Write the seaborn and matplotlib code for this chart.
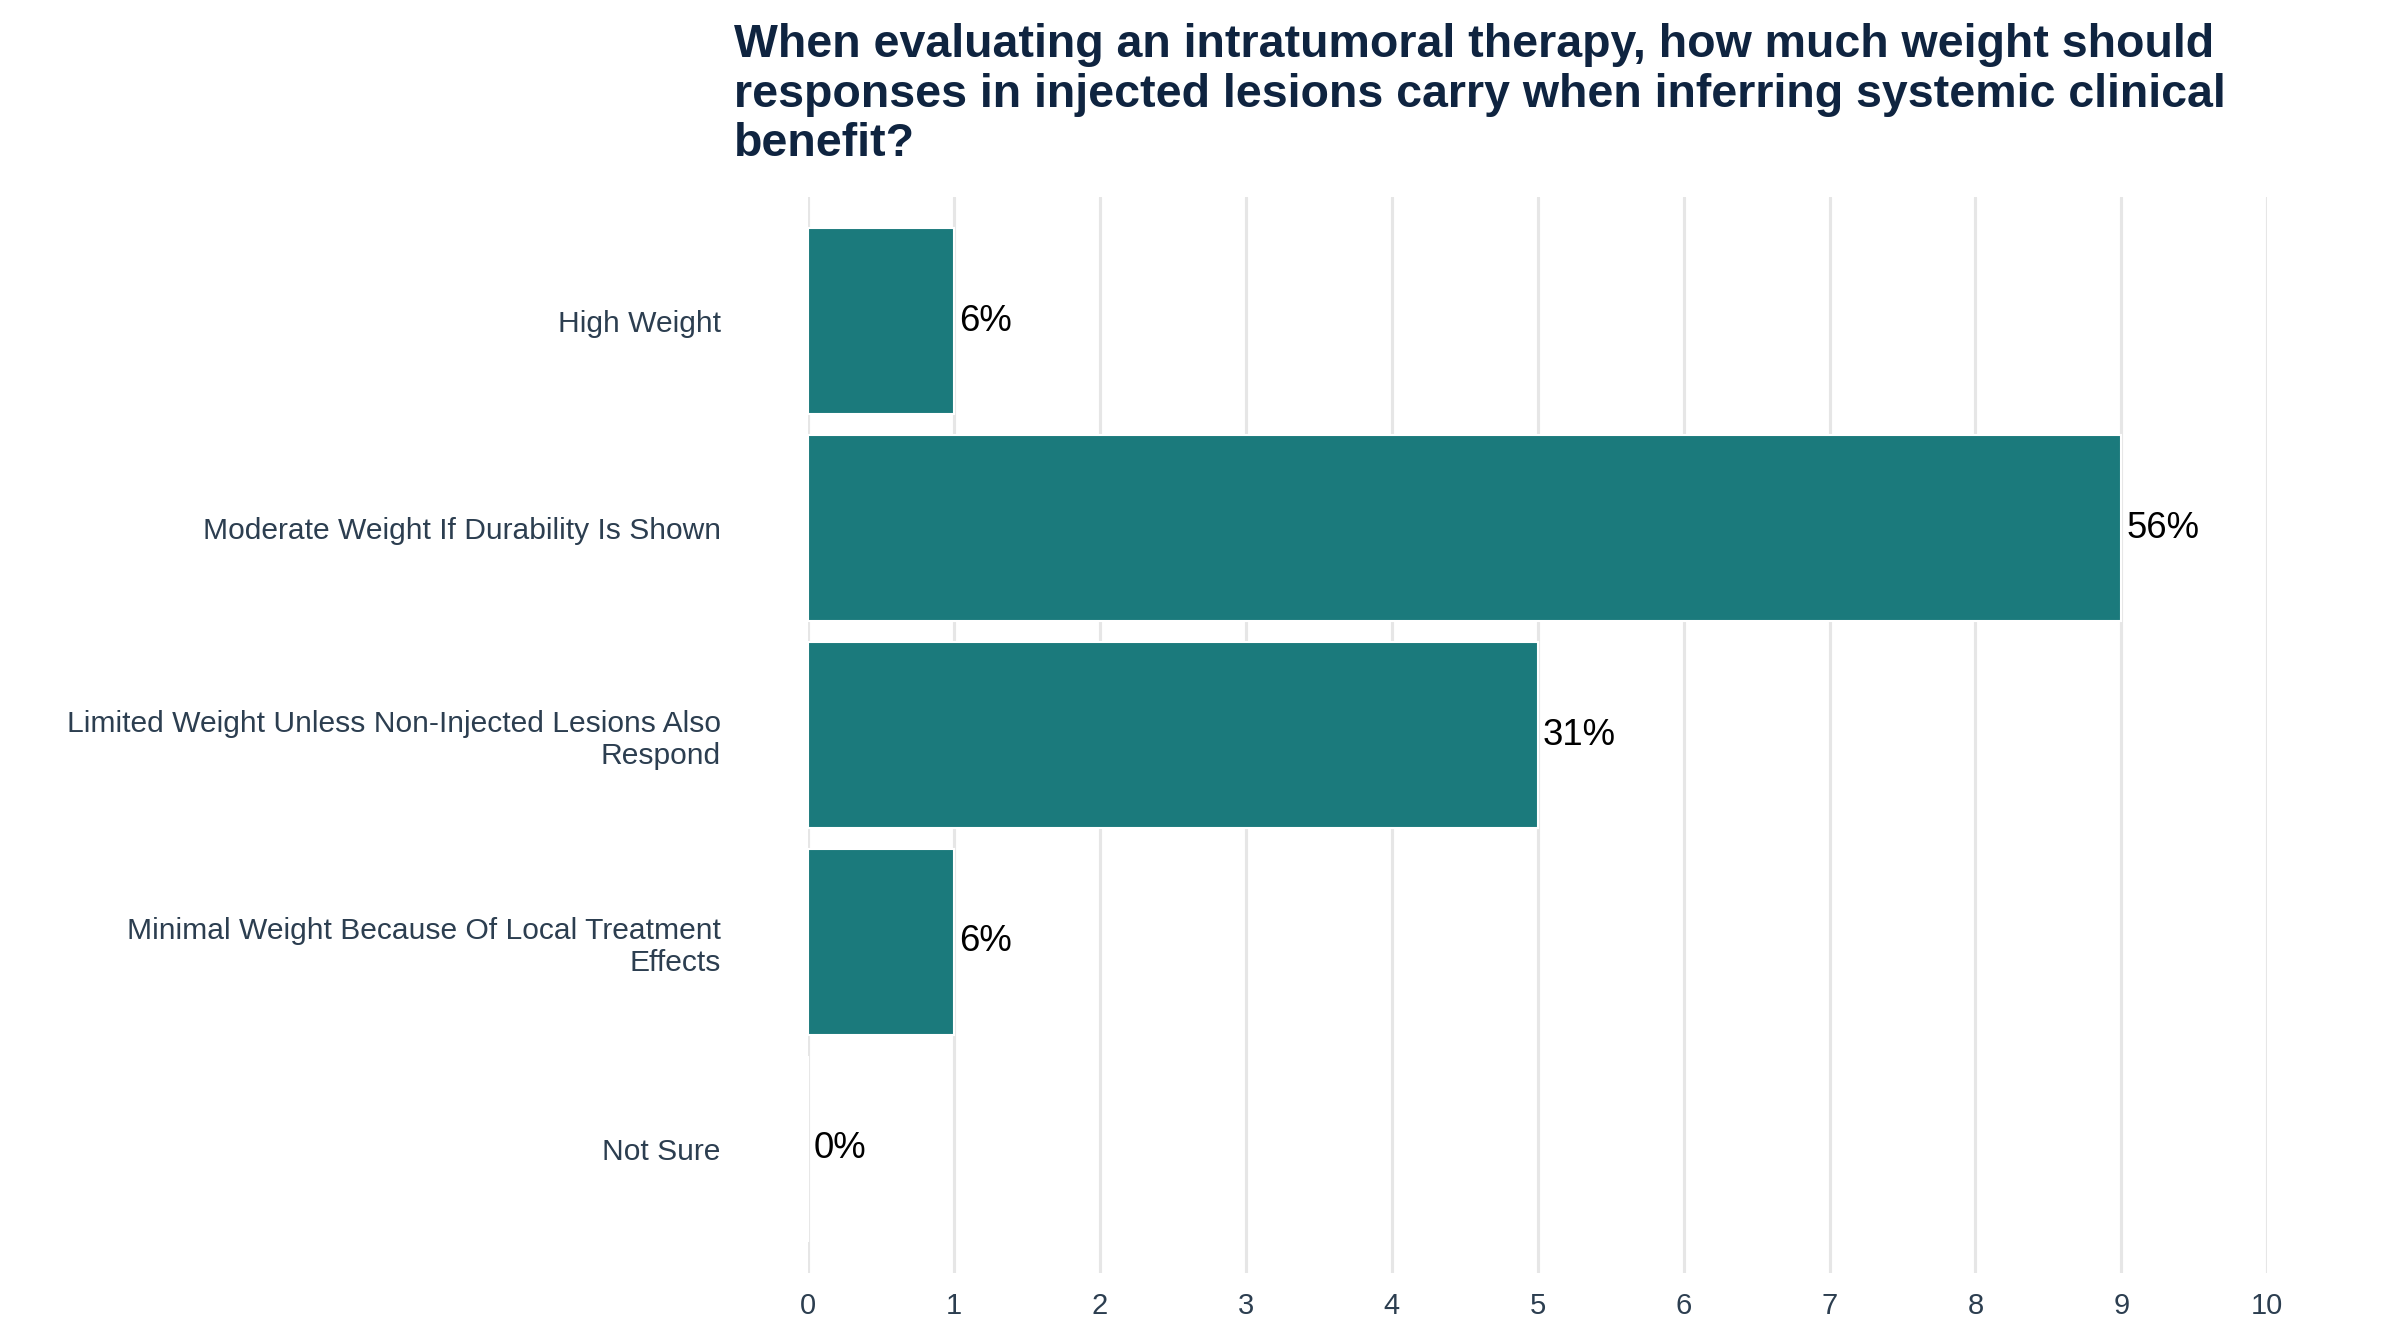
import matplotlib
matplotlib.use("Agg")
import matplotlib.pyplot as plt
import seaborn as sns
import pandas as pd

categories = [
    "High Weight",
    "Moderate Weight If Durability Is Shown",
    "Limited Weight Unless Non-Injected Lesions Also\nRespond",
    "Minimal Weight Because Of Local Treatment\nEffects",
    "Not Sure",
]
counts = [1, 9, 5, 1, 0]
pct_labels = ["6%", "56%", "31%", "6%", "0%"]
title = ("When evaluating an intratumoral therapy, how much weight should\n"
         "responses in injected lesions carry when inferring systemic clinical\n"
         "benefit?")

sns.set_theme(style="white")
plt.rcParams['font.family'] = ['Liberation Sans', 'DejaVu Sans']

df = pd.DataFrame({"category": categories, "count": counts})

fig = plt.figure(figsize=(16, 8.96), dpi=150)
ax = fig.add_axes([0.3367, 0.0528, 0.608, 0.8006])

sns.barplot(data=df, y="category", x="count", orient="h", color="#1b7a7c",
            width=0.9, saturation=1, ax=ax, zorder=3)

ax.set_xlim(0, 10)
ax.set_ylim(4.6, -0.6)
ax.set_xticks(range(0, 11))
ax.grid(axis="x", color="#e6e6e6", linewidth=1.5, zorder=0)
ax.grid(axis="y", visible=False)
ax.set_axisbelow(True)
for s in ax.spines.values():
    s.set_visible(False)
ax.set_xlabel("")
ax.set_ylabel("")
ax.tick_params(axis="x", length=0, pad=9, labelsize=14, labelcolor="#2c3e50")
ax.tick_params(axis="y", length=0, pad=42, labelsize=14.4, labelcolor="#2c3e50")

for i, (c, lab) in enumerate(zip(counts, pct_labels)):
    ax.annotate(lab, xy=(c, i), xytext=(2.5, 0), textcoords="offset points",
                ha="left", va="center", fontsize=17.5, color="black", zorder=4)

fig.text(0.306, 0.983, title, ha="left", va="top", fontsize=22.3,
         fontweight="bold", color="#0f2440", linespacing=1.17)

fig.savefig("out.png", dpi=150, facecolor="white")
